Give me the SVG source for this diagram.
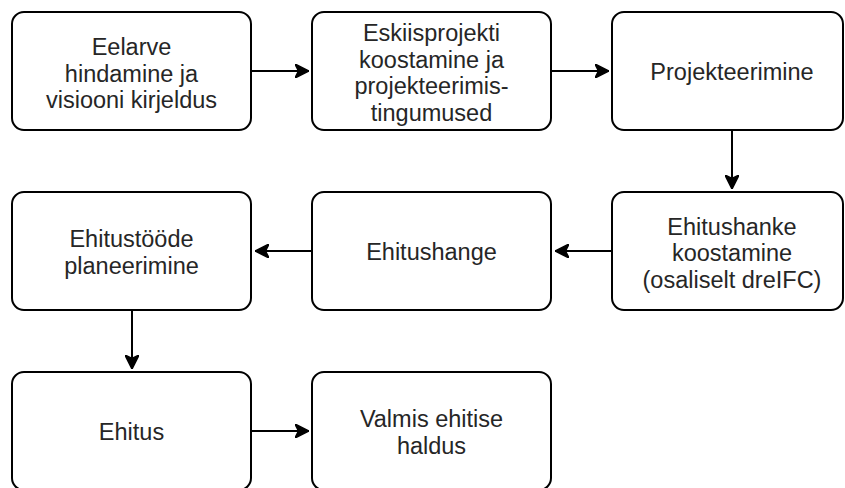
<svg xmlns="http://www.w3.org/2000/svg" width="845" height="488" viewBox="0 0 845 488">
  <style>
    .box { fill: #ffffff; stroke: #000000; stroke-width: 2; }
    .lbl { font-family: "Liberation Sans", Arial, sans-serif; font-size: 23.5px; fill: #262626; text-anchor: middle; }
    .edge { fill: none; stroke: #000000; stroke-width: 2; }
  </style>
  <defs>
    <marker id="arrow" viewBox="0 0 14 14" refX="14" refY="7" markerWidth="14" markerHeight="14" markerUnits="userSpaceOnUse" orient="auto">
      <path d="M14,7 L0,0 L3.5,7 L0,14 Z" fill="#000000" stroke="#000000" stroke-width="1.5" stroke-linejoin="miter"/>
    </marker>
  </defs>
  <rect width="845" height="488" fill="#ffffff"/>

  <g id="connectors">
    <line class="edge" x1="252" y1="71" x2="309" y2="71" marker-end="url(#arrow)"/>
    <line class="edge" x1="552" y1="71" x2="609" y2="71" marker-end="url(#arrow)"/>
    <line class="edge" x1="732" y1="130" x2="732" y2="189" marker-end="url(#arrow)"/>
    <line class="edge" x1="612" y1="251" x2="555" y2="251" marker-end="url(#arrow)"/>
    <line class="edge" x1="312" y1="251" x2="255" y2="251" marker-end="url(#arrow)"/>
    <line class="edge" x1="132" y1="310" x2="132" y2="369" marker-end="url(#arrow)"/>
    <line class="edge" x1="252" y1="431" x2="309" y2="431" marker-end="url(#arrow)"/>
  </g>

  <g id="eelarve">
    <rect class="box" x="12" y="12" width="239" height="118" rx="12"/>
    <text class="lbl" x="131.5" y="55">Eelarve</text>
    <text class="lbl" x="131.5" y="81.5">hindamine ja</text>
    <text class="lbl" x="131.5" y="108">visiooni kirjeldus</text>
  </g>

  <g id="eskiisprojekt">
    <rect class="box" x="312" y="12" width="239" height="118" rx="12"/>
    <text class="lbl" x="431.5" y="41">Eskiisprojekti</text>
    <text class="lbl" x="431.5" y="67.5">koostamine ja</text>
    <text class="lbl" x="431.5" y="94">projekteerimis-</text>
    <text class="lbl" x="431.5" y="120.5">tingumused</text>
  </g>

  <g id="projekteerimine">
    <rect class="box" x="612" y="12" width="231" height="118" rx="12"/>
    <text class="lbl" x="732" y="80">Projekteerimine</text>
  </g>

  <g id="ehitushanke-koostamine">
    <rect class="box" x="612" y="192" width="231" height="118" rx="12"/>
    <text class="lbl" x="732" y="234.5">Ehitushanke</text>
    <text class="lbl" x="732" y="261">koostamine</text>
    <text class="lbl" x="732" y="287.5">(osaliselt dreIFC)</text>
  </g>

  <g id="ehitushange">
    <rect class="box" x="312" y="192" width="239" height="118" rx="12"/>
    <text class="lbl" x="431.5" y="260">Ehitushange</text>
  </g>

  <g id="planeerimine">
    <rect class="box" x="12" y="192" width="239" height="118" rx="12"/>
    <text class="lbl" x="131.5" y="247">Ehitustööde</text>
    <text class="lbl" x="131.5" y="273.5">planeerimine</text>
  </g>

  <g id="ehitus">
    <rect class="box" x="12" y="372" width="239" height="118" rx="12"/>
    <text class="lbl" x="131.5" y="440">Ehitus</text>
  </g>

  <g id="haldus">
    <rect class="box" x="312" y="372" width="239" height="118" rx="12"/>
    <text class="lbl" x="431.5" y="427">Valmis ehitise</text>
    <text class="lbl" x="431.5" y="453.5">haldus</text>
  </g>
</svg>
